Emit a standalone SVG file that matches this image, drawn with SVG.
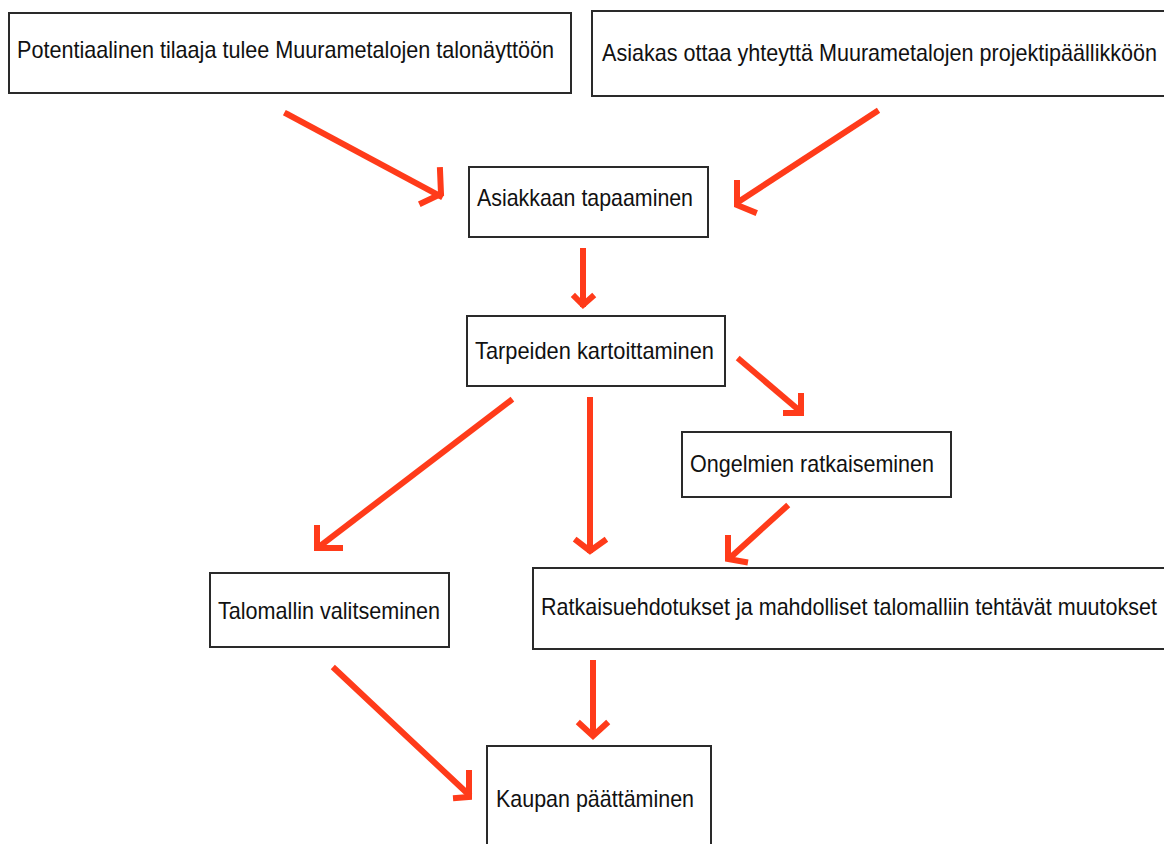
<svg xmlns="http://www.w3.org/2000/svg" width="1164" height="844" viewBox="0 0 1164 844">
<style>
.box{fill:#fff;stroke:#2a2a2a;stroke-width:2}
.t{font-family:"Liberation Sans",Arial,Helvetica,sans-serif;font-size:24px;fill:#111}
.c{fill:none;stroke:#ff3b1a;stroke-width:6;stroke-linecap:square;stroke-linejoin:miter}
</style>
<rect width="1164" height="844" fill="#fff"/>
<g id="n1"><rect class="box" x="9" y="13" width="562" height="80"/><text class="t" x="17" y="58" textLength="537" lengthAdjust="spacingAndGlyphs">Potentiaalinen tilaaja tulee Muurametalojen talonäyttöön</text></g>
<g id="n2"><rect class="box" x="592" y="11" width="590" height="85"/><text class="t" x="602" y="61" textLength="555" lengthAdjust="spacingAndGlyphs">Asiakas ottaa yhteyttä Muurametalojen projektipäällikköön</text></g>
<g id="n3"><rect class="box" x="469" y="167" width="239" height="70"/><text class="t" x="477" y="206" textLength="216" lengthAdjust="spacingAndGlyphs">Asiakkaan tapaaminen</text></g>
<g id="n4"><rect class="box" x="467" y="316" width="258" height="70"/><text class="t" x="475" y="359" textLength="239" lengthAdjust="spacingAndGlyphs">Tarpeiden kartoittaminen</text></g>
<g id="n5"><rect class="box" x="682" y="432" width="269" height="65"/><text class="t" x="690" y="472" textLength="244" lengthAdjust="spacingAndGlyphs">Ongelmien ratkaiseminen</text></g>
<g id="n6"><rect class="box" x="210" y="573" width="239" height="74"/><text class="t" x="218" y="619" textLength="222" lengthAdjust="spacingAndGlyphs">Talomallin valitseminen</text></g>
<g id="n7"><rect class="box" x="533" y="568" width="650" height="81"/><text class="t" x="541" y="615" textLength="616" lengthAdjust="spacingAndGlyphs">Ratkaisuehdotukset ja mahdolliset talomalliin tehtävät muutokset</text></g>
<g id="n8"><rect class="box" x="487" y="746" width="224" height="110"/><text class="t" x="496" y="807" textLength="198" lengthAdjust="spacingAndGlyphs">Kaupan päättäminen</text></g>
<g id="connectors">
<line class="c" x1="287" y1="114" x2="440" y2="196"/><polyline class="c" points="440,170 441,194 422,203"/>
<line class="c" x1="876" y1="112" x2="738" y2="202"/><polyline class="c" points="737,183 737,205 754,212"/>
<line class="c" x1="583" y1="251" x2="583" y2="304"/><polyline class="c" points="575,297 583,305 592,297"/>
<line class="c" x1="740" y1="360" x2="800" y2="411"/><polyline class="c" points="801,396 801,413 786,413"/>
<line class="c" x1="510" y1="401" x2="320" y2="546"/><polyline class="c" points="317,528 317,548 340,548"/>
<line class="c" x1="590" y1="400" x2="590" y2="550"/><polyline class="c" points="577,541 590,551 604,541"/>
<line class="c" x1="786" y1="507" x2="731" y2="557"/><polyline class="c" points="728,538 728,559 745,562"/>
<line class="c" x1="593" y1="663" x2="593" y2="733"/><polyline class="c" points="580,724 593,736 606,724"/>
<line class="c" x1="335" y1="669" x2="468" y2="794"/><polyline class="c" points="469,773 469,797 456,798"/>
</g>
</svg>
